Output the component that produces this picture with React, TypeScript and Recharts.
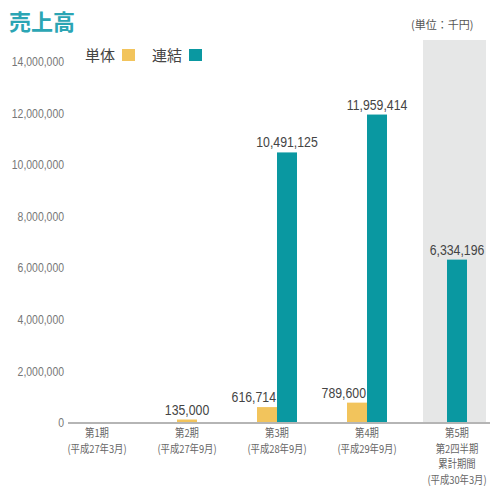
import React from 'react';
import { BarChart, Bar, XAxis, YAxis, Legend } from 'recharts';

const categories = [
  '第1期\n(平成27年3月)',
  '第2期\n(平成27年9月)',
  '第3期\n(平成28年9月)',
  '第4期\n(平成29年9月)',
  '第5期\n第2四半期\n累計期間\n(平成30年3月)',
];
const tantai: (number | null)[] = [null, 135000, 616714, 789600, null];
const renketsu: (number | null)[] = [null, null, 10491125, 11959414, 6334196];
const Y_TOP = 14850000;
const highlight: (number | null)[] = [null, null, null, null, Y_TOP];
const yTicks = [0, 2000000, 4000000, 6000000, 8000000, 10000000, 12000000, 14000000];
const seriesNames = { tantai: '単体', renketsu: '連結' };

const YELLOW = '#F2C45C';
const TEAL = '#0A98A1';
const NUM_FONT = "'Liberation Sans', Arial, sans-serif";
const CJK_FONT = "'Noto Sans CJK JP', 'Noto Sans', sans-serif";

const data = categories.map((name, i) => ({
  name,
  tantai: tantai[i],
  renketsu: renketsu[i],
  band: highlight[i],
}));

const fmt = (v: number) => v.toLocaleString('en-US');

const makeShape = (key: 'tantai' | 'renketsu', fill: string) => (props: any) => {
  const { x, y, width, height, payload } = props;
  const value = payload?.[key];
  if (value == null) return <g />;
  const otherKey = key === 'tantai' ? 'renketsu' : 'tantai';
  const alone = payload[otherKey] == null;
  const bx = alone ? (key === 'tantai' ? x + width / 2 : x - width / 2) : x;
  let lx = bx + width / 2;
  let anchor: 'middle' | 'end' = 'middle';
  if (key === 'tantai' && !alone) {
    lx = bx + width - 1;
    anchor = 'end';
  }
  return (
    <g>
      <rect x={bx} y={y} width={width} height={Math.max(height, 0)} fill={fill} />
      <g transform={`translate(${lx},${y - 5})`}>
        <text
          transform="scale(0.82,1)"
          x={0}
          y={0}
          textAnchor={anchor}
          fontSize={15}
          fontFamily={NUM_FONT}
          fill="#444"
        >
          {fmt(value)}
        </text>
      </g>
    </g>
  );
};

const XTick = (props: any) => {
  const { x, y, payload } = props;
  const lines = String(payload.value).split('\n');
  return (
    <g transform={`translate(${x},${y})`}>
      <text
        transform="scale(0.85,1)"
        textAnchor="middle"
        fontSize={11}
        fontFamily={CJK_FONT}
        fill="#666"
      >
        {lines.map((l, i) => (
          <tspan key={i} x={0} y={14.5 + i * 15.5}>
            {l}
          </tspan>
        ))}
      </text>
    </g>
  );
};

const YTick = (props: any) => {
  const { x, y, payload } = props;
  return (
    <g transform={`translate(${x},${y})`}>
      <text
        transform="scale(0.87,1)"
        textAnchor="end"
        dy="0.35em"
        fontSize={12}
        fontFamily={NUM_FONT}
        fill="#777"
      >
        {fmt(payload.value)}
      </text>
    </g>
  );
};

const LegendContent = (props: any) => {
  const items = (props.payload || []).filter((p: any) => p.dataKey !== 'band');
  return (
    <div style={{ display: 'flex', alignItems: 'center', fontFamily: CJK_FONT, fontSize: 15, color: '#444' }}>
      {items.map((p: any, i: number) => (
        <div key={i} style={{ display: 'flex', alignItems: 'center', marginRight: 17 }}>
          <span>{seriesNames[p.dataKey as 'tantai' | 'renketsu']}</span>
          <span
            style={{ display: 'inline-block', width: 13, height: 12, background: p.color, marginLeft: 7 }}
          />
        </div>
      ))}
    </div>
  );
};

export default function App() {
  return (
    <div style={{ position: 'absolute', left: 0, top: 0, width: 492, height: 486, background: '#fff' }}>
      <div
        style={{
          position: 'absolute',
          left: 9,
          top: 7,
          fontFamily: CJK_FONT,
          fontWeight: 700,
          fontSize: 22,
          color: '#2BA5B4',
          lineHeight: '26px',
          zIndex: 2,
        }}
      >
        売上高
      </div>
      <div
        style={{
          position: 'absolute',
          left: 411,
          top: 16,
          fontFamily: CJK_FONT,
          fontSize: 11,
          color: '#555',
          lineHeight: '16px',
          zIndex: 2,
        }}
      >
        (単位：千円)
      </div>
      <BarChart
        width={492}
        height={486}
        data={data}
        margin={{ top: 40, right: 2, bottom: 0, left: 0 }}
        barGap={0}
      >
        <XAxis
          xAxisId="bg"
          dataKey="name"
          hide
          padding={{ left: -19, right: -9 }}
        />
        <XAxis
          dataKey="name"
          height={63}
          padding={{ left: -16, right: -12 }}
          tickLine={false}
          tickSize={0}
          tickMargin={0}
          axisLine={{ stroke: '#B5B5B5', strokeWidth: 2 }}
          tick={<XTick />}
          interval={0}
        />
        <YAxis
          width={68}
          domain={[0, Y_TOP]}
          ticks={yTicks}
          allowDataOverflow
          axisLine={false}
          tickLine={false}
          tickSize={0}
          tickMargin={4}
          tick={<YTick />}
          interval={0}
        />
        <Legend
          layout="horizontal"
          verticalAlign="middle"
          align="center"
          wrapperStyle={{ top: 44, left: 85, width: 'auto', height: 18 }}
          content={<LegendContent />}
        />
        <Bar
          xAxisId="bg"
          dataKey="band"
          fill="#E6E7E7"
          barSize={63}
          legendType="none"
          isAnimationActive={false}
        />
        <Bar
          dataKey="tantai"
          name="単体"
          fill={YELLOW}
          barSize={20}
          shape={makeShape('tantai', YELLOW)}
          isAnimationActive={false}
        />
        <Bar
          dataKey="renketsu"
          name="連結"
          fill={TEAL}
          barSize={20}
          shape={makeShape('renketsu', TEAL)}
          isAnimationActive={false}
        />
      </BarChart>
    </div>
  );
}
